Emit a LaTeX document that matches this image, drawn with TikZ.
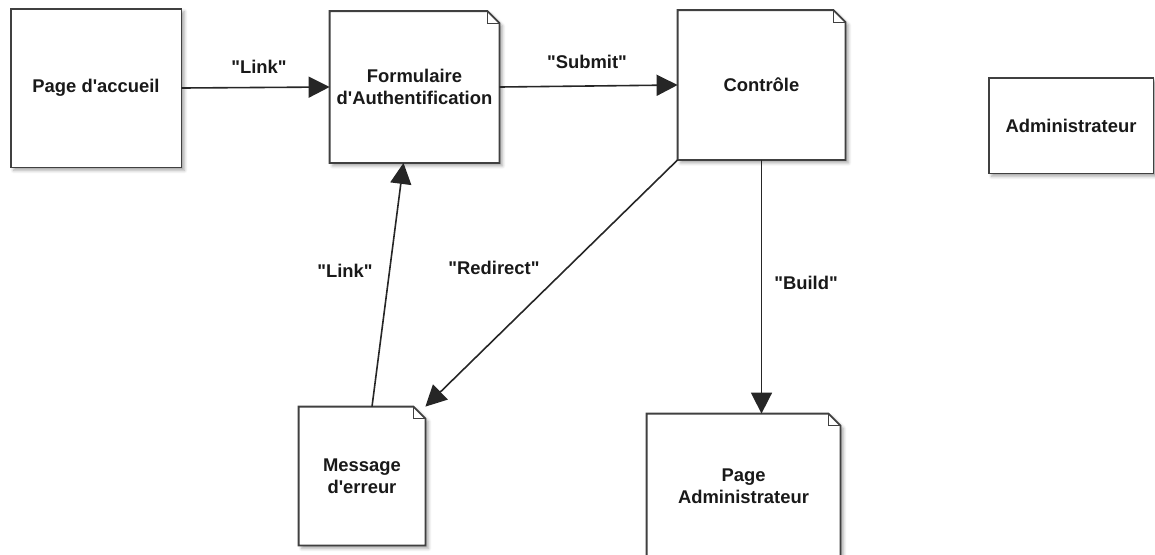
\documentclass[tikz,border=0pt]{standalone}
\usepackage{fontspec}
\setmainfont{Liberation Sans}
\usetikzlibrary{arrows.meta,calc,backgrounds,shadows.blur}
\newcommand{\qq}[1]{\textquotedbl#1\textquotedbl}
\newcommand{\ap}{\textquotesingle}
\begin{document}
\begin{tikzpicture}[x=0.5pt,y=-0.5pt,
  box/.style={inner sep=0pt, align=center, font=\bfseries\fontsize{9.2}{10.8}\selectfont, text=black!90},
  lbl/.style={inner sep=1pt, font=\bfseries\fontsize{9.2}{10.8}\selectfont, text=black!90},
  flow/.style={line width=0.8pt, draw=black!85, -{Triangle[length=10.5pt,width=10.5pt]}},
  outline/.style={draw=black!75, line width=0.9pt, fill=white,
    blur shadow={shadow xshift=1.5pt, shadow yshift=-1.5pt, shadow blur radius=1.5pt, shadow opacity=35}},
  fold/.style={draw=black!75, line width=0.6pt}
]
\useasboundingbox (0,0) rectangle (1155,554);

% pages and states
\node[box, minimum width=85pt, minimum height=79pt] (home) at (96,88) {Page d\ap accueil};
\node[box, minimum width=84.5pt, minimum height=75.5pt] (form) at (414.5,87) {Formulaire\\d\ap Authentification};
\node[box, minimum width=83.5pt, minimum height=74.5pt] (ctrl) at (761.5,85) {Contrôle};
\node[box, minimum width=82pt, minimum height=47.5pt] (admin) at (1071,125.5) {Administrateur};
\node[box, minimum width=63pt, minimum height=69pt] (msg) at (362,476) {Message\\d\ap erreur};
\node[box, minimum width=96.5pt, minimum height=72pt] (padm) at (743.5,486) {Page\\Administrateur};

% outlines drawn behind the texts
\begin{scope}[on background layer]
  \draw[outline] (home.south west) rectangle (home.north east);
  \draw[outline] (admin.south west) rectangle (admin.north east);
  \foreach \n in {form,ctrl,msg,padm} {
    \draw[outline] (\n.south west) -- (\n.north west) -- ($(\n.north east)+(-12,0)$)
      -- ($(\n.north east)+(0,12)$) -- (\n.south east) -- cycle;
    \draw[fold] ($(\n.north east)+(-12,0)$) |- ($(\n.north east)+(0,12)$);
  }
\end{scope}

% navigation
\draw[flow] (home.east) -- (form.west);
\draw[flow] (form.east) -- (ctrl.west);
\draw[flow] (ctrl.south west) -- (msg.north east);
\draw[flow] ($(msg.north)+(10,0)$) -- ($(form.south)+(-11,0)$);
\draw[flow] (ctrl.south) -- (ctrl.south |- padm.north);

% connector labels
\node[lbl] (lk1) at (259,67) {\qq{Link}};
\node[lbl] (sub) at (587,62) {\qq{Submit}};
\node[lbl] (red) at (494,268) {\qq{Redirect}};
\node[lbl] (lk2) at (345,271) {\qq{Link}};
\node[lbl] (bld) at (806,283) {\qq{Build}};
\end{tikzpicture}
\end{document}
